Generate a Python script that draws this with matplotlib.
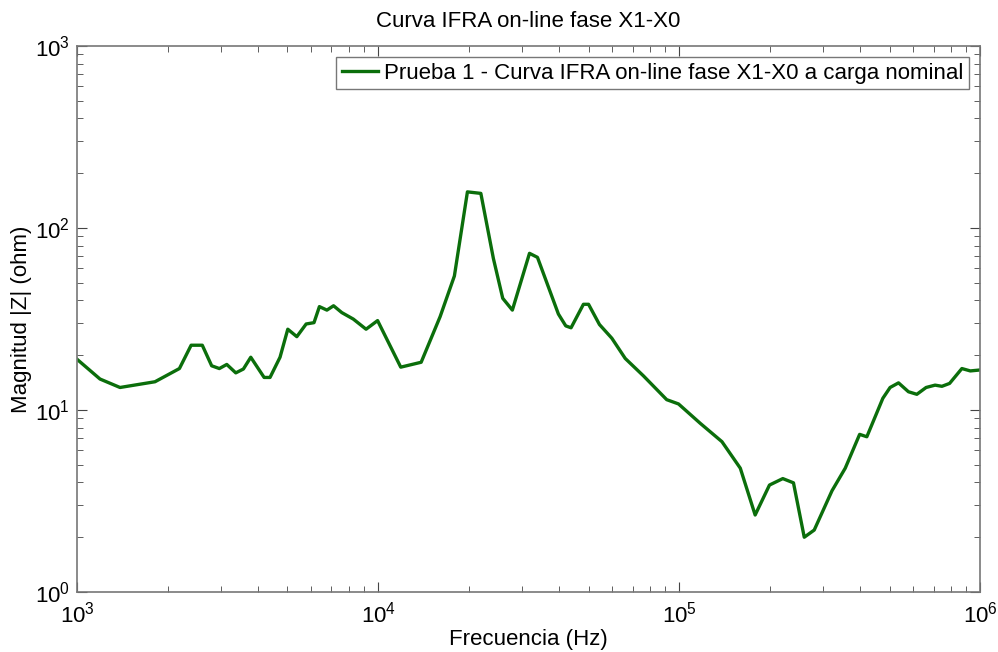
import numpy as np
import matplotlib.pyplot as plt

plt.rcParams['font.family'] = ['Liberation Sans', 'DejaVu Sans']

# frecuencia (Hz) y magnitud |Z| (ohm)
freq = [1000, 1192, 1389, 1815, 2188, 2393, 2606, 2800, 2969, 3143, 3367, 3569,
        3776, 4182, 4375, 4723, 5012, 5370, 5768, 6124, 6383, 6760, 7112, 7576,
        8272, 9120, 9960, 11890, 13900, 16070, 17920, 19800, 21940, 24150, 25940,
        27920, 31830, 33830, 39700, 42000, 43740, 48080, 50000, 54350, 59750,
        66200, 76100, 90900, 99500, 117500, 138700, 159600, 178800, 199500,
        220900, 239700, 260300, 280900, 321800, 356100, 397600, 420100, 474800,
        501900, 535300, 577500, 615800, 661000, 708000, 746000, 791000, 869000,
        927000, 1000000]
mag = [19.0, 14.8, 13.3, 14.3, 16.9, 22.7, 22.7, 17.5, 16.9, 17.8, 16.0, 16.8,
       19.5, 15.1, 15.1, 19.5, 27.8, 25.3, 29.7, 30.2, 37.0, 35.4, 37.4, 34.3,
       31.6, 27.8, 31.0, 17.2, 18.3, 32.6, 54.5, 158, 155, 68, 41.1,
       35.4, 72.6, 69, 33.7, 29.0, 28.3, 38.1, 38.1, 29.5, 24.8,
       19.2, 15.4, 11.4, 10.8, 8.45, 6.7, 4.79, 2.65, 3.87,
       4.2, 3.98, 2.0, 2.19, 3.6, 4.79, 7.35, 7.13, 11.6,
       13.3, 14.1, 12.6, 12.2, 13.3, 13.7, 13.5, 14.0, 16.9,
       16.4, 16.6]

fig = plt.figure(figsize=(9.98, 6.52), dpi=100)
ax = fig.add_axes([0.0772, 0.092, 0.905, 0.8374])

ax.loglog(freq, mag, color='#0b6e0b', lw=2.4,
          label='Prueba 1 - Curva IFRA on-line fase X1-X0 a carga nominal')

ax.set_xlim(1e3, 1e6)
ax.set_ylim(1e0, 1e3)
ax.tick_params(which='both', direction='in', top=True, right=True,
               labelsize=16, color='#444444')
ax.tick_params(which='major', length=7)
ax.tick_params(which='minor', length=4)
ax.tick_params(axis='x', which='major', pad=7)
ax.tick_params(axis='y', which='major', pad=5)
for s in ax.spines.values():
    s.set_color('#777777')
    s.set_linewidth(1.2)

ax.set_xlabel('Frecuencia (Hz)', fontsize=16, labelpad=1)
ax.set_ylabel('Magnitud |Z| (ohm)', fontsize=16, labelpad=2)
ax.set_title('Curva IFRA on-line fase X1-X0', fontsize=16, pad=14)

leg = ax.legend(loc='upper right', fontsize=16, fancybox=False,
                handlelength=1.6, handletextpad=0.3, borderaxespad=0.5,
                borderpad=0.25)
leg.get_frame().set_edgecolor('#555555')
leg.get_frame().set_linewidth(1.0)

fig.savefig('out.png', dpi=100)
